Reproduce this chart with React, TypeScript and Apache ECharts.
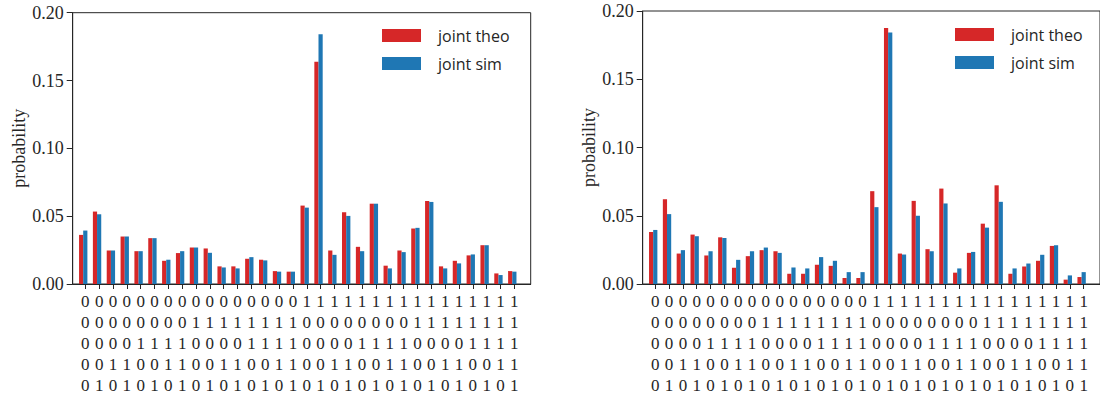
import React, { useEffect, useRef } from "react";
import * as echarts from "echarts";

const states = [
  "00000", "00001", "00010", "00011", "00100", "00101", "00110", "00111",
  "01000", "01001", "01010", "01011", "01100", "01101", "01110", "01111",
  "10000", "10001", "10010", "10011", "10100", "10101", "10110", "10111",
  "11000", "11001", "11010", "11011", "11100", "11101", "11110", "11111",
];

const theoLeft = [
  0.0362, 0.0534, 0.0247, 0.035, 0.0242, 0.0338, 0.0171, 0.0228,
  0.0269, 0.0262, 0.013, 0.013, 0.0186, 0.0179, 0.0095, 0.0091,
  0.0578, 0.1638, 0.0247, 0.0529, 0.0274, 0.0592, 0.0135, 0.0247,
  0.0409, 0.0612, 0.013, 0.0171, 0.0211, 0.0286, 0.0078, 0.0095,
];
const simLeft = [
  0.0394, 0.0514, 0.0247, 0.035, 0.0242, 0.0338, 0.0179, 0.0242,
  0.0269, 0.023, 0.0122, 0.0115, 0.0198, 0.0174, 0.0091, 0.0091,
  0.0563, 0.1841, 0.0215, 0.0502, 0.0242, 0.0592, 0.0115, 0.0235,
  0.0414, 0.0605, 0.0115, 0.0152, 0.0218, 0.0286, 0.0066, 0.0091,
];
const theoRight = [
  0.0381, 0.0621, 0.0223, 0.0362, 0.0209, 0.0342, 0.0119, 0.0204,
  0.0248, 0.024, 0.0075, 0.0075, 0.0141, 0.0133, 0.0044, 0.0044,
  0.068, 0.1876, 0.0223, 0.0609, 0.0255, 0.0699, 0.0083, 0.0228,
  0.0442, 0.0723, 0.0075, 0.0129, 0.017, 0.0279, 0.0032, 0.0051,
];
const simRight = [
  0.0396, 0.0512, 0.0248, 0.035, 0.024, 0.0337, 0.0177, 0.024,
  0.0267, 0.0228, 0.0121, 0.0114, 0.0197, 0.017, 0.0087, 0.0087,
  0.0563, 0.1842, 0.0216, 0.05, 0.024, 0.059, 0.0114, 0.0235,
  0.0413, 0.0602, 0.0114, 0.015, 0.0214, 0.0284, 0.0063, 0.0087,
];

const seriesNames = ["joint theo", "joint sim"];
const THEO_COLOR = "#d62728";
const SIM_COLOR = "#1f77b4";
const THEO_SHIFT = -0.3; // theo bar drawn at index - 0.3, sim bar at index
const SERIF = "'Liberation Serif', 'DejaVu Serif', serif";
const SANS = "'Open Sans', 'Noto Sans', sans-serif";
const INK = "#262626";

const tickIdx = states.map((_, i) => i);

function makeX(gridIndex: number) {
  return {
    type: "value",
    gridIndex,
    min: -0.91,
    max: 32.18,
    splitLine: { show: false },
    axisLine: { show: true, onZero: false, lineStyle: { color: INK, width: 1 } },
    axisTick: {
      show: true,
      inside: false,
      length: 5,
      customValues: tickIdx,
      lineStyle: { color: INK, width: 1 },
    },
    axisLabel: {
      show: true,
      customValues: tickIdx,
      margin: 7,
      fontFamily: SERIF,
      fontSize: 17,
      lineHeight: 21,
      color: INK,
      formatter: (v: number) => {
        const s = states[Math.round(v)];
        return s ? s.split("").join("\n") : "";
      },
    },
  };
}

function makeY(gridIndex: number) {
  return {
    type: "value",
    gridIndex,
    min: 0,
    max: 0.2,
    interval: 0.05,
    splitLine: { show: false },
    axisLine: { show: true, onZero: false, lineStyle: { color: INK, width: 1 } },
    axisTick: { show: true, inside: false, length: 6, lineStyle: { color: INK, width: 1 } },
    axisLabel: {
      margin: 9,
      fontFamily: SERIF,
      fontSize: 18,
      color: INK,
      formatter: (v: number) => v.toFixed(2),
    },
    name: "probability",
    nameLocation: "middle",
    nameGap: 45,
    nameTextStyle: { fontFamily: SERIF, fontSize: 18, color: INK },
  };
}

function makeBars(idx: number, theo: number[], sim: number[]) {
  const common = {
    type: "bar",
    xAxisIndex: idx,
    yAxisIndex: idx,
    barWidth: 4.2,
    barGap: "-100%",
  };
  return [
    {
      ...common,
      name: seriesNames[0],
      itemStyle: { color: THEO_COLOR },
      data: theo.map((v, i) => [i + THEO_SHIFT, v]),
    },
    {
      ...common,
      name: seriesNames[1],
      itemStyle: { color: SIM_COLOR },
      data: sim.map((v, i) => [i, v]),
    },
  ];
}

function makeLegend(left: number, top: number) {
  return {
    left,
    top,
    orient: "vertical",
    icon: "rect",
    itemWidth: 39,
    itemHeight: 13,
    itemGap: 10,
    padding: 0,
    selectedMode: false,
    data: seriesNames,
    textStyle: {
      fontFamily: SANS,
      fontSize: 16,
      lineHeight: 18,
      color: INK,
      padding: [0, 0, 0, 12],
    },
  };
}

export default function App() {
  const ref = useRef<HTMLDivElement>(null);

  useEffect(() => {
    document.body.style.margin = "0";
    if (!ref.current) return;
    const chart = echarts.init(ref.current, undefined, { renderer: "svg" });
    chart.setOption({
      animation: false,
      backgroundColor: "#ffffff",
      grid: [
        { left: 72.7, top: 12.7, width: 458, height: 272.3, show: true, borderColor: INK, borderWidth: 1, backgroundColor: "transparent" },
        { left: 642.7, top: 11, width: 458, height: 274.7, show: true, borderColor: INK, borderWidth: 1, backgroundColor: "transparent" },
      ],
      xAxis: [makeX(0), makeX(1)],
      yAxis: [makeY(0), makeY(1)],
      legend: [makeLegend(382, 26.5), makeLegend(955, 25.5)],
      series: [...makeBars(0, theoLeft, simLeft), ...makeBars(1, theoRight, simRight)],
    });
    return () => chart.dispose();
  }, []);

  return <div ref={ref} style={{ width: 1100, height: 396 }} />;
}
